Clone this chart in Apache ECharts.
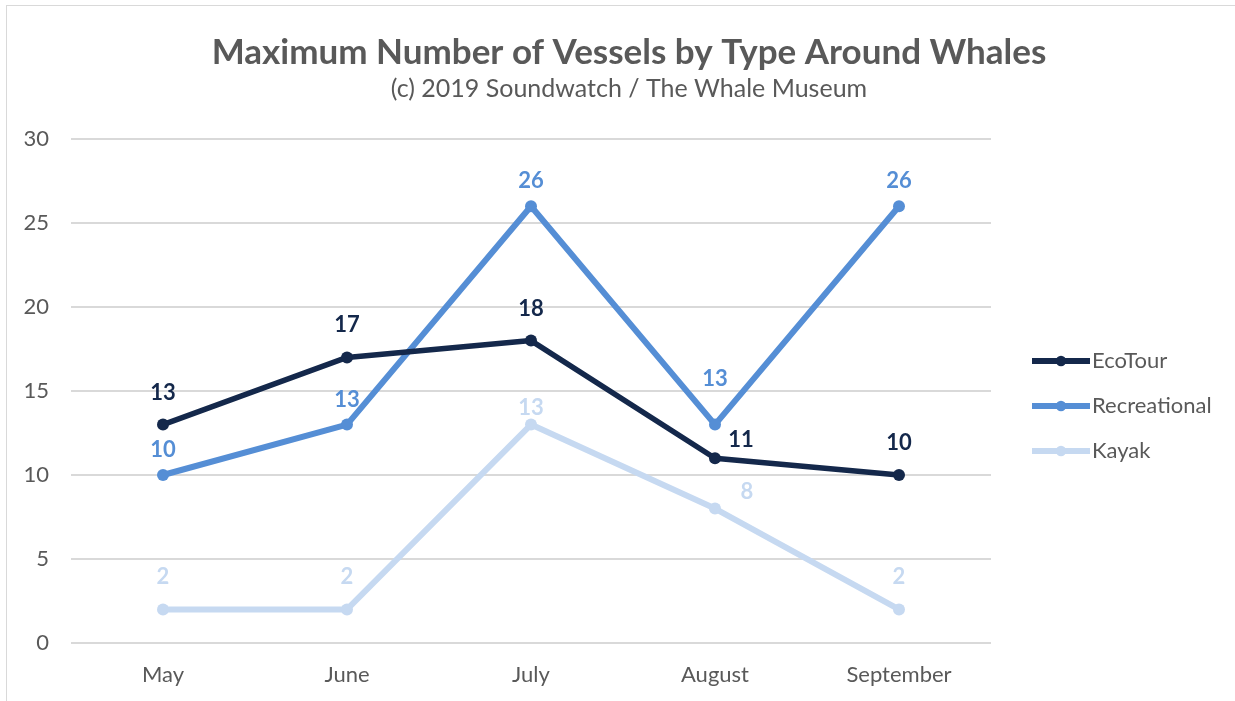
<!DOCTYPE html>
<html>
<head>
    <meta charset="utf-8">
    <title>Maximum Number of Vessels</title>
    <script src="https://cdn.jsdelivr.net/npm/echarts@6/dist/echarts.min.js"></script>
    <style>
        body { margin: 0; background: #fff; }
        #main { position: absolute; left: 0; top: 0; width: 1235px; height: 701px; }
        #frame { position: absolute; left: 6px; top: 5px; width: 1240px; height: 720px; border: 1px solid #d9d9d9; }
    </style>
</head>
<body>
    <div id="frame"></div>
    <div id="main"></div>
    <script type="text/javascript">
        var months = ['May', 'June', 'July', 'August', 'September'];
        var ecoTour = [13, 17, 18, 11, 10];
        var recreational = [10, 13, 26, 13, 26];
        var kayak = [2, 2, 13, 8, 2];

        var font = 'Lato, "Open Sans", sans-serif';

        // a few labels were nudged by hand in the original
        function withShift(values, shifts) {
            return values.map(function (v, i) {
                if (!shifts[i]) return v;
                return { value: v, label: { offset: shifts[i] } };
            });
        }

        function lineSeries(name, data, color, width, dist) {
            return {
                name: name,
                type: 'line',
                data: data,
                symbol: 'circle',
                symbolSize: 12,
                lineStyle: { color: color, width: width },
                itemStyle: { color: color },
                label: {
                    show: true,
                    position: 'top',
                    distance: dist,
                    color: color,
                    fontFamily: font,
                    fontWeight: 'bold',
                    fontSize: 22
                },
                emphasis: { disabled: true },
                animation: false
            };
        }

        var myChart = echarts.init(document.getElementById('main'));
        myChart.setOption({
            title: {
                text: 'Maximum Number of Vessels by Type Around Whales',
                subtext: '(c) 2019 Soundwatch / The Whale Museum',
                left: 624,
                textAlign: 'center',
                top: 30,
                itemGap: 6,
                textStyle: { fontFamily: font, fontWeight: 'bold', fontSize: 35, color: '#595959' },
                subtextStyle: { fontFamily: font, fontSize: 25, color: '#595959' }
            },
            legend: {
                orient: 'vertical',
                left: 1024,
                top: 345,
                itemWidth: 58,
                itemHeight: 13,
                itemGap: 23,
                lineStyle: { width: 6 },
                textStyle: { fontFamily: font, fontSize: 22, color: '#595959', padding: [0, 0, 0, -3] },
                data: ['EcoTour', 'Recreational', 'Kayak']
            },
            grid: { left: 71, right: 244, top: 139, bottom: 58 },
            xAxis: {
                type: 'category',
                data: months,
                boundaryGap: true,
                axisLine: { show: false },
                axisTick: { show: false },
                axisLabel: { fontFamily: font, fontSize: 22, color: '#595959', margin: 21 }
            },
            yAxis: {
                type: 'value',
                min: 0,
                max: 30,
                interval: 5,
                axisLine: { show: false },
                axisTick: { show: false },
                splitLine: { lineStyle: { color: '#d9d9d9', width: 2 } },
                axisLabel: { fontFamily: font, fontSize: 22, color: '#595959', margin: 22 }
            },
            series: [
                lineSeries('Recreational', withShift(recreational, { 3: [0, -21] }), '#558ed5', 6, 8),
                lineSeries('Kayak', withShift(kayak, { 2: [0, 15], 3: [32, 15] }), '#c6d9f1', 6, 15),
                lineSeries('EcoTour', withShift(ecoTour, { 3: [26, 14] }), '#14284b', 5.5, 15)
            ]
        });
    </script>
</body>
</html>
